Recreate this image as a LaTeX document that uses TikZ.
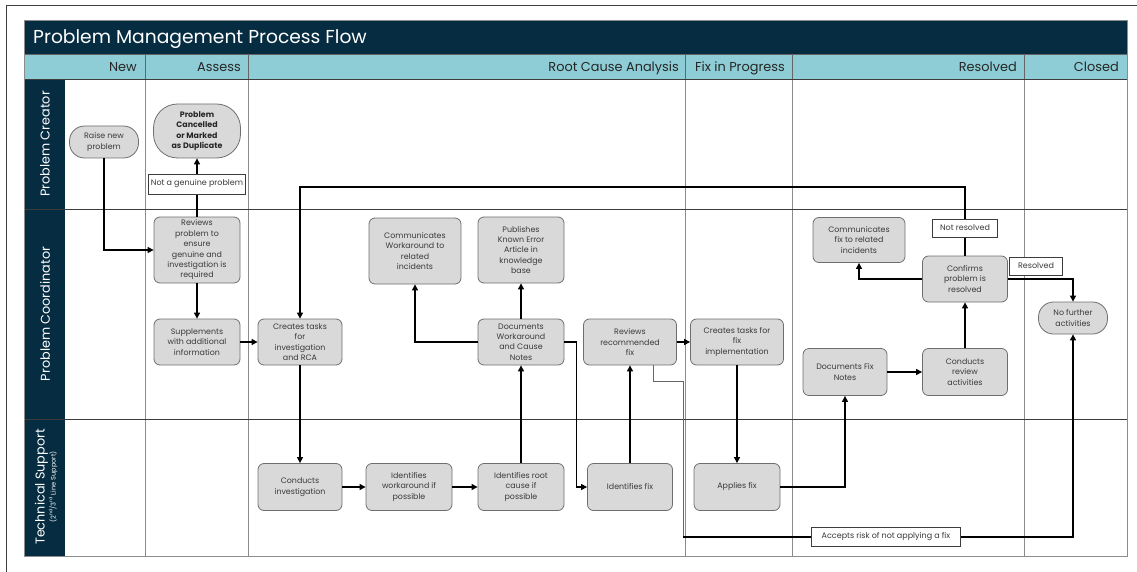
\documentclass[tikz,border=0pt]{standalone}
\usepackage{fontspec}
\setmainfont{Poppins}
\usetikzlibrary{arrows.meta}

\definecolor{navy}{HTML}{062C42}
\definecolor{hdrteal}{HTML}{8ECDD5}
\definecolor{boxfill}{HTML}{D9D9D9}
\definecolor{boxline}{HTML}{6E6E6E}
\definecolor{txt}{HTML}{3A3A3A}
\definecolor{gridcol}{HTML}{8C8C8C}
\definecolor{sepcol}{HTML}{3C3C3C}

\newcommand{\boxfont}{\fontsize{7.9}{10.4}\selectfont}
\newcommand{\lblfont}{\fontsize{8}{10}\selectfont}

\tikzset{
  proc/.style={draw=boxline, fill=boxfill, line width=0.8pt, rounded corners=6pt,
    align=center, font=\boxfont, text=txt, inner sep=1pt},
  terminal/.style={proc, rounded corners=15pt},
  sz/.style 2 args={minimum width=#1, minimum height=#2},
  lbl/.style={draw=sepcol, fill=white, line width=0.6pt, font=\lblfont, text=txt,
    inner sep=1pt, align=center},
  flow/.style={draw=black, line width=1.2pt, -{Triangle[length=6pt,width=6pt]}},
  thinflow/.style={draw=black!60, line width=0.7pt},
  hdr/.style={anchor=base east, font=\fontsize{12.9}{14}\selectfont, text=black!85, inner sep=0pt},
  lane/.style={rotate=90, text=white, font=\fontsize{12.8}{14}\selectfont, align=center, inner sep=0pt},
  gridv/.style={draw=gridcol, line width=0.7pt},
  gridh/.style={draw=sepcol, line width=0.7pt}
}

\begin{document}
\begin{tikzpicture}[x=1pt, y=-1pt]
\useasboundingbox (0,0) rectangle (1137,572);

% page frame
\draw[black!75, line width=1pt] (6.5,572) -- (6.5,5.5) -- (1137,5.5);

% title bar, phase header and lane label column
\fill[navy] (24,20) rectangle (1127,54);
\fill[hdrteal] (24,54) rectangle (1127,79);
\fill[navy] (24,79) rectangle (65,556);
\node[anchor=base west, text=white, font=\fontsize{18.7}{20}\selectfont, inner sep=0pt]
  (title) at (33,44) {Problem Management Process Flow};

% phase columns
\foreach \x in {145,248,685,792,1024} {
  \draw[draw=black!60, line width=0.7pt] (\x,54) -- (\x,79);
  \draw[gridv] (\x,79) -- (\x,556);
}
\draw[draw=black!60, line width=0.7pt] (24,54) -- (1127,54);
\draw[gridh] (24,79) -- (1127,79);
\draw[gridh] (24,209) -- (1127,209);
\draw[gridh] (24,419) -- (1127,419);
\draw[gridv] (24,20) rectangle (1127,556);

% phase names
\node[hdr] (hNew) at (137,71.5) {New};
\node[hdr] (hAssess) at (241,71.5) {Assess};
\node[hdr] (hRca) at (679,71.5) {Root Cause Analysis};
\node[hdr] (hFix) at (785,71.5) {Fix in Progress};
\node[hdr] (hRes) at (1017,71.5) {Resolved};
\node[hdr] (hClosed) at (1119,71.5) {Closed};

% lane names
\node[lane] (lCreator) at (45,144) {Problem Creator};
\node[lane] (lCoord) at (45,314) {Problem Coordinator};
\node[lane] (lTech) at (46,487) {Technical Support\\[-3pt]{\fontsize{6.6}{7.5}\selectfont (2\textsuperscript{nd}/3\textsuperscript{rd} Line Support)}};

% activities
\node[terminal, sz={69pt}{32pt}] (raise) at (104,142) {Raise new\\problem};
\node[proc, rounded corners=24pt, sz={87pt}{54pt}, font=\boxfont\bfseries, text=black!85] (cancel) at (197,131) {Problem\\Cancelled\\or Marked\\as Duplicate};
\node[proc, sz={86pt}{66pt}] (reviews) at (197,250) {Reviews\\problem to\\ensure\\genuine and\\investigation is\\required};
\node[proc, sz={86pt}{46pt}] (supp) at (197,342) {Supplements\\with additional\\information};
\node[proc, sz={84pt}{46pt}] (rca) at (300,342) {Creates tasks\\for\\investigation\\and RCA};
\node[proc, sz={84pt}{47pt}] (conducts) at (300,487) {Conducts\\investigation};
\node[proc, sz={86pt}{47pt}] (idwa) at (409,487) {Identifies\\workaround if\\possible};
\node[proc, sz={86pt}{47pt}] (idrc) at (521,487) {Identifies root\\cause if\\possible};
\node[proc, sz={85pt}{47pt}] (idfix) at (630,487) {Identifies fix};
\node[proc, sz={92pt}{66pt}] (commwa) at (415,251) {Communicates\\Workaround to\\related\\incidents};
\node[proc, sz={86pt}{66pt}] (publish) at (521,250) {Publishes\\Known Error\\Article in\\knowledge\\base};
\node[proc, sz={86pt}{46pt}] (docwa) at (521,342) {Documents\\Workaround\\and Cause\\Notes};
\node[proc, sz={93pt}{46pt}] (revfix) at (630,342) {Reviews\\recommended\\fix};
\node[proc, sz={93pt}{46pt}] (fiximpl) at (737,342) {Creates tasks for\\fix\\implementation};
\node[proc, sz={86pt}{47pt}] (applies) at (737,487) {Applies fix};
\node[proc, sz={92pt}{45pt}] (commfix) at (859,240) {Communicates\\fix to related\\incidents};
\node[proc, sz={85pt}{46pt}] (confirms) at (965,279) {Confirms\\problem is\\resolved};
\node[proc, sz={84pt}{47pt}] (docfix) at (845,372) {Documents Fix\\Notes};
\node[proc, sz={85pt}{47pt}] (revact) at (965,372) {Conducts\\review\\activities};
\node[terminal, sz={69pt}{32pt}] (nofurther) at (1073,318) {No further\\activities};

% routing points
\coordinate (loop) at (630,187);
\coordinate (riskturn) at (683,537);

% connectors
\draw[flow] (raise.south) |- (reviews.west);
\draw[flow] (reviews.north) -- (cancel.south);
\draw[flow] (reviews.south) -- (supp.north);
\draw[flow] (supp.east) -- (rca.west);
\draw[flow] (confirms.north) -- (confirms.north |- loop) -| (rca.north);
\draw[flow] (rca.south) -- (conducts.north);
\draw[flow] (conducts.east) -- (idwa.west);
\draw[flow] (idwa.east) -- (idrc.west);
\draw[flow] (idrc.north) -- (docwa.south);
\draw[flow] (docwa.north) -- (publish.south);
\draw[flow] (docwa.west) -| (commwa.south);
\draw[flow] (docwa.east) -- ++(12,0) |- (idfix.west);
\draw[flow] (idfix.north) -- (revfix.south);
\draw[flow] (revfix.east) -- (fiximpl.west);
\draw[thinflow] ([xshift=23pt]revfix.south) -- ++(0,16) -| (riskturn);
\draw[flow] (riskturn) -| (nofurther.south);
\draw[flow] (fiximpl.south) -- (applies.north);
\draw[flow] (applies.east) -| (docfix.south);
\draw[flow] (docfix.east) -- (revact.west);
\draw[flow] (revact.north) -- (confirms.south);
\draw[flow] (confirms.west) -| (commfix.south);
\draw[flow] (confirms.east) -| (nofurther.north);

% decision labels
\node[lbl, sz={97pt}{20pt}] (notgen) at (197,184) {Not a genuine problem};
\node[lbl, sz={65pt}{18pt}] (notres) at (965,228) {Not resolved};
\node[lbl, sz={53pt}{18pt}] (res) at (1036,266) {Resolved};
\node[lbl, sz={149pt}{19pt}] (accepts) at (886,537) {Accepts risk of not applying a fix};
\end{tikzpicture}
\end{document}
